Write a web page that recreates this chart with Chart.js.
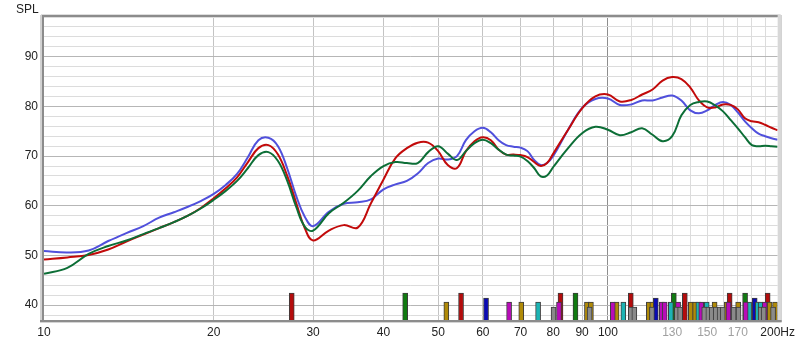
<!DOCTYPE html>
<html>
<head>
<meta charset="utf-8">
<script src="https://cdn.jsdelivr.net/npm/chart.js@4.4.1/dist/chart.umd.min.js"></script>
<style>
  html, body { margin: 0; padding: 0; background: #fff; }
</style>
</head>
<body>
<canvas id="spl" width="800" height="345"></canvas>
<script>
// frequencies (Hz) the three curves are sampled at
const freqs = [10, 11, 12, 13, 14, 15, 16, 17, 18, 19, 20, 21, 22, 23, 24, 25, 26, 27, 28, 29, 30,
  32, 34, 36, 38, 40, 42, 44, 46, 48, 50, 52, 54, 56, 58, 60, 62, 64, 66, 68, 70, 72, 74, 76, 78, 80,
  85, 90, 95, 100, 105, 110, 115, 120, 125, 130, 135, 140, 145, 150, 155, 160, 165, 170, 175, 180,
  185, 190, 195, 200];

// SPL (dB) per curve
const splRed = [49.2, 49.6, 50.1, 51.2, 52.8, 54.2, 55.5, 56.7, 58.0, 59.6, 61.5, 63.5, 65.7, 68.8, 71.6, 72.2, 70.3, 66.0, 60.6, 55.5, 53.0,
  55.0, 56.1, 55.6, 60.5, 65.3, 69.6, 71.6, 72.7, 72.7, 71.0, 68.2, 67.6, 71.0, 73.0, 73.8, 73.2, 71.3, 70.3, 70.3, 70.2, 69.8, 68.8, 68.0, 68.6, 70.5,
  75.3, 79.6, 82.0, 82.4, 81.0, 81.3, 82.4, 83.4, 85.2, 85.9, 85.5, 83.8, 81.2, 79.8, 79.8, 80.4, 80.3, 79.4, 77.6, 77.0,
  76.8, 76.3, 75.7, 75.2];

const splBlue = [50.9, 50.6, 51.0, 52.9, 54.5, 55.9, 57.6, 58.7, 59.8, 61.0, 62.4, 64.2, 66.4, 69.8, 73.2, 73.7, 72.0, 67.5, 62.0, 57.8, 55.9,
  58.8, 60.4, 60.7, 61.3, 63.3, 64.3, 65.0, 66.5, 68.6, 69.5, 69.3, 70.0, 73.2, 75.0, 75.7, 74.8, 73.2, 72.2, 71.9, 71.7, 71.0, 69.2, 68.2, 68.6, 70.0,
  75.3, 79.7, 81.5, 81.6, 80.3, 80.4, 81.2, 81.2, 81.8, 82.2, 81.2, 79.2, 78.6, 79.2, 80.3, 80.9, 80.3, 78.8, 77.0, 75.6,
  74.5, 74.0, 73.6, 73.3];

const splGreen = [46.3, 47.5, 50.3, 51.9, 53.0, 54.3, 55.5, 56.7, 58.0, 59.5, 61.2, 63.0, 65.0, 67.6, 70.2, 70.8, 69.0, 65.0, 59.8, 55.8, 55.0,
  58.5, 60.6, 63.0, 66.0, 68.0, 68.8, 68.6, 68.6, 70.8, 72.0, 70.5, 69.2, 71.0, 72.6, 73.3, 72.6, 71.3, 70.3, 70.1, 69.9, 69.0, 67.6, 65.9, 66.1, 67.8,
  71.6, 74.6, 75.9, 75.3, 74.2, 74.8, 75.6, 74.3, 73.0, 74.0, 78.2, 80.3, 80.9, 81.0, 80.2, 79.0, 77.3, 75.6, 73.8, 72.2,
  72.0, 72.1, 72.0, 71.9];

// mode markers along the bottom (Hz), one list per colour
const modeRed = [27.5, 54.9, 82.4, 109.8, 136.9, 164.4, 192.0];
const modeGreen = [43.7, 87.6, 130.9, 175.1];
const modeGold = [51.7, 70.2, 91.8, 93.3, 103.6, 118.2, 119.9, 140.3, 142.8, 154.6, 162.4, 170.2, 193.5, 197.9];
const modeBlue = [60.8, 121.6, 182.1];
const modeMagenta = [66.8, 81.9, 102.0, 124.6, 126.1, 133.2, 146.4, 163.6, 175.5, 189.7];
const modeCyan = [75.2, 106.5, 129.3, 144.7, 149.7, 178.0, 184.4, 186.6];
const modeGray = [80.1, 92.8, 109.8, 111.4, 119.7, 132.5, 134.3, 148.2, 150.7, 152.8, 155.3, 157.8, 159.8, 167.1, 170.5, 186.6, 188.9, 196.3];

// marker heights (dB)
const tallTop = 42.4;
const midTop = 41.4;
const shortTop = 40.6;
const lowTop = 39.6;

// axes
const xGridValues = [10, 20, 30, 40, 50, 60, 70, 80, 90, 100, 110, 120, 130, 140, 150, 160, 170, 180, 190, 200];
const xLabelValues = [10, 20, 30, 40, 50, 60, 70, 80, 90, 100, 130, 150, 170, 200];
const xGrayLabels = [130, 150, 170];
const yLabelValues = [40, 50, 60, 70, 80, 90];

const toPoints = (vals) => vals.map((v, i) => ({ x: freqs[i], y: v }));
const toBars = (list, top) => list.map(f => ({ x: f, y: top }));

const lineSet = (label, vals, color) => ({
    type: 'line',
    label: label,
    data: toPoints(vals),
    borderColor: color,
    borderWidth: 2,
    pointRadius: 0,
    tension: 0.4,
    fill: false,
    order: 0
});

const barSet = (label, list, top, color, order) => ({
    type: 'bar',
    label: label,
    data: toBars(list, top),
    backgroundColor: color,
    borderColor: '#3c3c3c',
    borderWidth: 1,
    borderSkipped: false,
    barThickness: 5,
    grouped: false,
    order: order
});

// frame round the plot + the "SPL" caption
const framePlugin = {
    id: 'frame',
    afterDatasetsDraw(chart) {
        const { ctx, chartArea: a } = chart;
        const w = a.right - a.left;
        const h = a.bottom - a.top;
        ctx.save();
        ctx.fillStyle = '#dedede';
        ctx.fillRect(a.left - 3, a.top - 3, w + 6, 1);
        ctx.fillStyle = '#8c8c8c';
        ctx.fillRect(a.left - 2, a.top - 2, w + 4, 2);
        ctx.fillStyle = '#d2d2d2';
        ctx.fillRect(a.left - 4, a.top - 2, 2, h + 4);
        ctx.fillStyle = '#8c8c8c';
        ctx.fillRect(a.left - 2, a.top - 2, 2, h + 4);
        ctx.fillStyle = '#d8d8d8';
        ctx.fillRect(a.right, a.top - 2, 3, h + 4);
        ctx.fillStyle = '#bcbcbc';
        ctx.fillRect(a.right + 3, a.top - 2, 1, h + 4);
        ctx.fillStyle = '#8c8c8c';
        ctx.fillRect(a.left - 4, a.bottom, w + 8, 2);
        ctx.fillStyle = '#d4d4d4';
        ctx.fillRect(a.left - 4, a.bottom + 2, w + 8, 1);
        ctx.fillStyle = '#222';
        ctx.font = '12px "Liberation Sans", Arial, sans-serif';
        ctx.textBaseline = 'alphabetic';
        ctx.fillText('SPL', 16, 13);
        ctx.restore();
    }
};

Chart.defaults.font.family = '"Liberation Sans", Arial, sans-serif';
Chart.defaults.font.size = 12;
Chart.defaults.color = '#222';

new Chart(document.getElementById('spl'), {
    type: 'line',
    data: {
        datasets: [
            lineSet('green', splGreen, '#0c6e36'),
            lineSet('red', splRed, '#c20a0a'),
            lineSet('blue', splBlue, '#5050dc'),
            barSet('gray', modeGray, lowTop, '#8a8a8a', 1),
            barSet('magenta', modeMagenta, shortTop, '#b80cb8', 2),
            barSet('cyan', modeCyan, shortTop, '#1cb4b4', 3),
            barSet('blue', modeBlue, midTop, '#0a0ab4', 4),
            barSet('gold', modeGold, shortTop, '#b08a08', 5),
            barSet('green', modeGreen, tallTop, '#107a10', 6),
            barSet('red', modeRed, tallTop, '#b40c0c', 7)
        ]
    },
    options: {
        responsive: false,
        animation: false,
        layout: { padding: { top: 17, right: 22, left: 0, bottom: 0 } },
        plugins: {
            legend: { display: false },
            tooltip: { enabled: false }
        },
        scales: {
            x: {
                type: 'logarithmic',
                min: 10,
                max: 200,
                offset: false,
                afterBuildTicks: (scale) => { scale.ticks = xGridValues.map(v => ({ value: v })); },
                afterFit: (scale) => { scale.height = 25; },
                border: { display: false },
                grid: {
                    offset: false,
                    drawTicks: false,
                    lineWidth: 1,
                    color: (c) => {
                        const v = c.tick ? c.tick.value : 0;
                        if (v === 10 || v === 200) return 'rgba(0,0,0,0)';
                        if (v === 100) return '#8e8e8e';
                        if (v > 100) return '#dcdcdc';
                        return '#c4c4c4';
                    }
                },
                ticks: {
                    autoSkip: false,
                    maxRotation: 0,
                    padding: 5,
                    color: (c) => xGrayLabels.includes(c.tick.value) ? '#a0a0a0' : '#222',
                    callback: (v) => {
                        if (!xLabelValues.includes(v)) return '';
                        return v === 200 ? '200Hz' : String(v);
                    }
                }
            },
            y: {
                min: 37,
                max: 98,
                beginAtZero: false,
                afterFit: (scale) => { scale.width = 44; },
                border: { display: false },
                grid: {
                    drawTicks: false,
                    color: (c) => (c.tick && c.tick.value % 10 === 0) ? '#b6b6b6' : '#dcdcdc'
                },
                ticks: {
                    stepSize: 2,
                    includeBounds: false,
                    autoSkip: false,
                    padding: 6,
                    callback: (v) => yLabelValues.includes(v) ? String(v) : ''
                }
            }
        }
    },
    plugins: [framePlugin]
});
</script>
</body>
</html>
